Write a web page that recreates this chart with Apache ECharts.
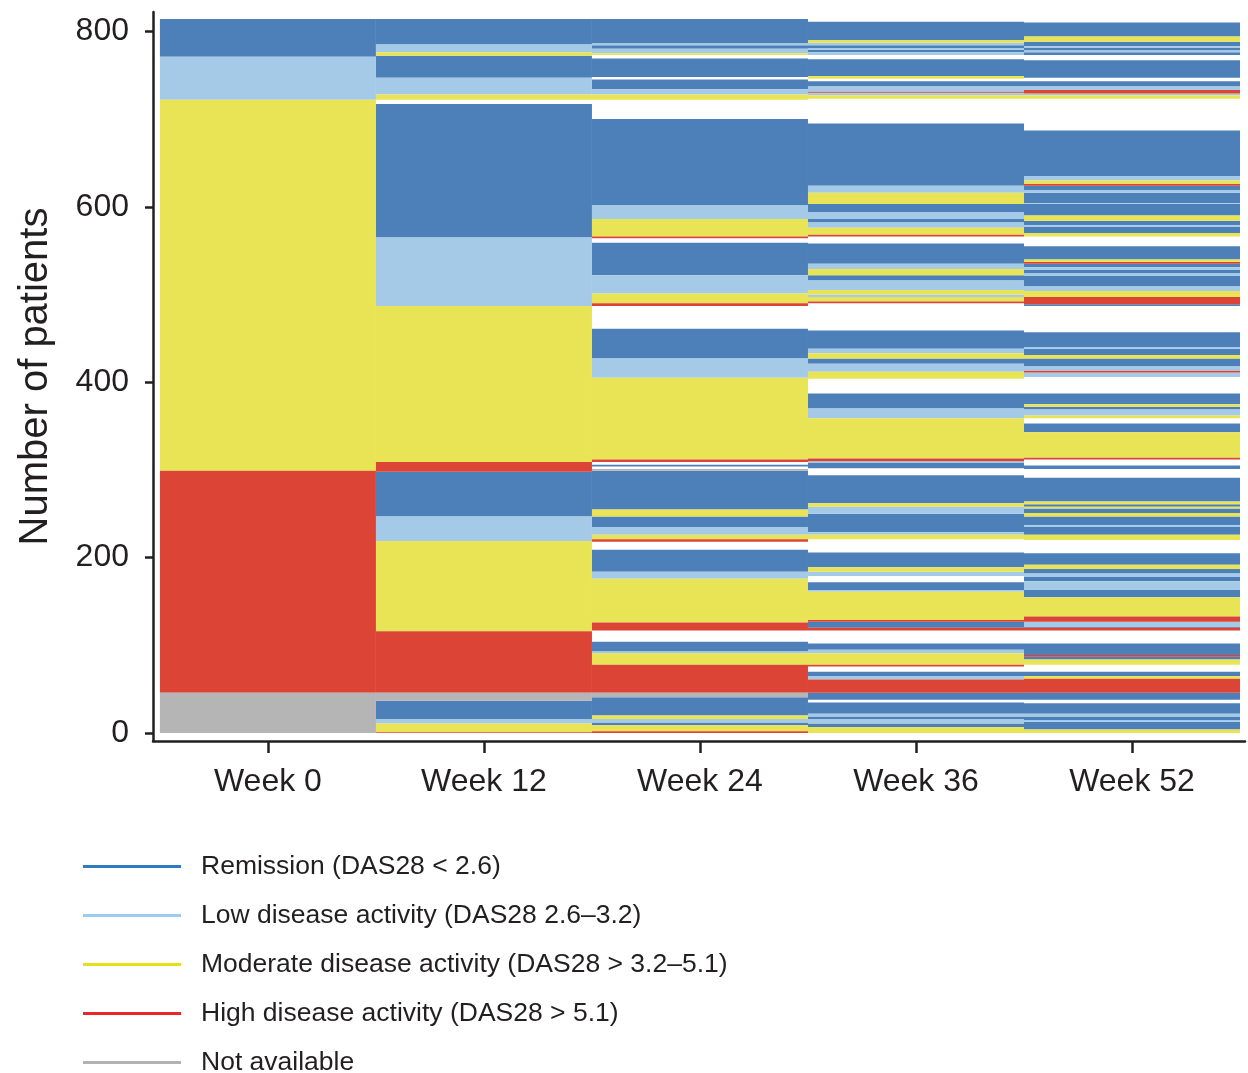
<!DOCTYPE html>
<html>
<head>
<meta charset="utf-8">
<title>DAS28 disease activity by visit</title>
<script src="https://cdn.jsdelivr.net/npm/echarts@6/dist/echarts.min.js"></script>
<style>
  html, body { margin: 0; padding: 0; background: #fff; }
  #chart { width: 1248px; height: 1073px; }
</style>
</head>
<body>
<div id="chart"></div>
<script>
const categories = ["Week 0", "Week 12", "Week 24", "Week 36", "Week 52"];
const yTicks = [0, 200, 400, 600, 800];

// R remission, L low, M moderate, H high, N not available, W no record (left blank)
const stateOrder = ["R", "L", "M", "H", "N"];
const stateNames = {
  R: "Remission (DAS28 < 2.6)",
  L: "Low disease activity (DAS28 2.6–3.2)",
  M: "Moderate disease activity (DAS28 > 3.2–5.1)",
  H: "High disease activity (DAS28 > 5.1)",
  N: "Not available",
};

// patients per stripe, listed bottom -> top
const week0 = [["N", 46], ["H", 253], ["M", 423], ["L", 49], ["R", 43]];
const week12 = [
  ["H", 1], ["M", 10], ["L", 5], ["R", 21], ["N", 9],
  ["H", 70], ["M", 103], ["L", 28], ["R", 51],
  ["H", 11], ["M", 178], ["L", 78], ["R", 152], ["W", 5],
  ["M", 6], ["L", 19], ["R", 25],
  ["M", 4], ["L", 9], ["R", 29],
];
const week24 = [
  ["H", 2], ["M", 7], ["R", 3], ["L", 4], ["M", 4], ["R", 21], ["N", 5],
  ["H", 32], ["M", 13], ["L", 2], ["R", 11], ["W", 13], ["H", 9], ["M", 50], ["L", 8], ["R", 25],
  ["W", 9], ["H", 3], ["M", 5], ["L", 9], ["R", 12], ["M", 8], ["R", 44],
  ["N", 2], ["W", 3], ["R", 2], ["W", 3], ["H", 3], ["M", 93], ["L", 22], ["R", 34],
  ["W", 26], ["H", 3], ["M", 11], ["L", 21], ["R", 37], ["W", 5], ["H", 2], ["M", 20], ["L", 16], ["R", 98],
  ["W", 22], ["M", 6], ["L", 6], ["R", 11], ["W", 3], ["R", 21], ["W", 4],
  ["M", 2], ["L", 5], ["R", 4], ["L", 2], ["R", 28],
];
const week36 = [
  ["M", 7], ["R", 4], ["L", 5], ["R", 3], ["L", 3], ["R", 13], ["W", 3], ["R", 8],
  ["H", 15], ["L", 4], ["R", 5], ["W", 6], ["H", 2], ["M", 13], ["L", 4], ["R", 7], ["W", 15],
  ["H", 3], ["R", 7], ["H", 2], ["M", 32], ["L", 2], ["R", 9], ["W", 7], ["L", 5], ["M", 5], ["R", 17],
  ["W", 15], ["M", 5], ["L", 3], ["R", 21], ["L", 8], ["M", 4], ["R", 32], ["W", 8], ["R", 6], ["L", 2],
  ["H", 3], ["M", 46], ["L", 11], ["R", 17], ["W", 17], ["M", 8], ["L", 9], ["R", 6], ["M", 6], ["L", 5], ["R", 21],
  ["W", 31], ["H", 2], ["M", 5], ["L", 3], ["M", 5], ["L", 11], ["R", 6], ["M", 7], ["L", 6], ["R", 23],
  ["W", 8], ["H", 2], ["M", 8], ["L", 6], ["R", 4], ["L", 8], ["R", 9], ["M", 13], ["L", 8], ["R", 71],
  ["W", 28], ["M", 4], ["L", 3], ["H", 1], ["L", 6], ["R", 6], ["W", 3], ["M", 3], ["R", 19],
  ["W", 5], ["L", 3], ["R", 3], ["L", 2], ["R", 3], ["L", 3], ["M", 3], ["R", 21],
];
const week52 = [
  ["M", 4], ["R", 9], ["L", 2], ["R", 4], ["L", 3], ["R", 12], ["W", 4], ["R", 8],
  ["H", 16], ["M", 3], ["R", 5], ["W", 8], ["M", 6], ["R", 3], ["H", 2], ["R", 13], ["W", 15],
  ["H", 3], ["R", 1], ["L", 6], ["H", 6], ["M", 22], ["R", 8], ["L", 10], ["R", 5], ["L", 4], ["R", 5], ["M", 5], ["R", 13],
  ["W", 15], ["M", 6], ["R", 9], ["L", 2], ["R", 10], ["M", 4], ["R", 5], ["M", 2], ["R", 3], ["M", 3], ["R", 27],
  ["W", 10], ["R", 4], ["W", 7], ["H", 2], ["M", 29], ["R", 10], ["W", 6], ["M", 3], ["L", 7], ["R", 3], ["M", 3], ["R", 12],
  ["W", 19], ["L", 5], ["H", 2], ["L", 5], ["R", 9], ["M", 4], ["R", 7], ["L", 2], ["R", 17],
  ["W", 30], ["R", 2], ["H", 8], ["M", 7], ["L", 5], ["R", 12], ["L", 3], ["R", 4], ["L", 3], ["R", 4],
  ["H", 2], ["M", 3], ["R", 15], ["W", 11], ["M", 4], ["R", 7], ["L", 2], ["R", 5], ["M", 6], ["R", 13],
  ["L", 1], ["R", 12], ["L", 3], ["R", 5], ["H", 2], ["M", 4], ["L", 5], ["R", 52],
  ["W", 36], ["M", 4], ["L", 2], ["H", 4], ["L", 4], ["R", 6], ["W", 4], ["R", 20],
  ["W", 6], ["R", 3], ["L", 2], ["R", 3], ["L", 2], ["R", 5], ["M", 6], ["R", 16],
];
const weeks = [week0, week12, week24, week36, week52];

const fillColors = { R: "#4d80b9", L: "#a5cae8", M: "#e9e455", H: "#dc4535", N: "#b5b5b6" };
const legendColors = { R: "#2c7bc3", L: "#9bcbee", M: "#e4e01c", H: "#e9262a", N: "#b3b3b3" };
const textColor = "#231f20";
const fontFamily = "'Liberation Sans', Arial, sans-serif";

// [weekIndex, start, end] for every stripe of one state
function stripesFor(state) {
  const out = [];
  weeks.forEach((stripes, i) => {
    let base = 0;
    stripes.forEach(([s, n]) => {
      if (s === state) out.push([i, base, base + n]);
      base += n;
    });
  });
  return out;
}

const chart = echarts.init(document.getElementById("chart"));

chart.setOption({
  animation: false,
  textStyle: { fontFamily: fontFamily },
  grid: { left: 153, right: 3, top: 12, bottom: 332 },
  legend: {
    orient: "vertical",
    left: 83,
    top: 853,
    height: 260,
    padding: 0,
    icon: "rect",
    itemWidth: 98,
    itemHeight: 3,
    itemGap: 22,
    selectedMode: false,
    textStyle: {
      fontSize: 26.5,
      lineHeight: 26,
      color: textColor,
      fontFamily: fontFamily,
      padding: [0, 0, 0, 15],
    },
    data: stateOrder.map((s) => ({ name: stateNames[s], itemStyle: { color: legendColors[s] } })),
  },
  xAxis: {
    type: "value",
    min: -0.532,
    max: 4.523,
    splitLine: { show: false },
    axisLine: { show: true, onZero: false, lineStyle: { color: textColor, width: 2.5 } },
    axisTick: {
      show: true,
      customValues: categories.map((c, i) => i),
      length: 12,
      lineStyle: { color: textColor, width: 2.5 },
    },
    axisLabel: {
      customValues: categories.map((c, i) => i),
      formatter: (v) => categories[Math.round(v)],
      fontSize: 32,
      color: textColor,
      margin: 25,
      fontFamily: fontFamily,
    },
  },
  yAxis: {
    type: "value",
    min: -9,
    max: 822,
    name: "Number of patients",
    nameLocation: "middle",
    nameRotate: 90,
    nameGap: 97,
    nameTextStyle: { fontSize: 40, color: textColor, fontFamily: fontFamily },
    splitLine: { show: false },
    axisLine: { show: true, onZero: false, lineStyle: { color: textColor, width: 2.5 } },
    axisTick: {
      show: true,
      customValues: yTicks,
      length: 8,
      lineStyle: { color: textColor, width: 2.5 },
    },
    axisLabel: {
      customValues: yTicks,
      fontSize: 32,
      color: textColor,
      margin: 24,
      fontFamily: fontFamily,
    },
  },
  series: stateOrder.map((s) => ({
    name: stateNames[s],
    type: "custom",
    data: stripesFor(s),
    encode: { x: 0, y: [1, 2] },
    itemStyle: { color: fillColors[s] },
    renderItem: (params, api) => {
      const x = api.value(0);
      const topLeft = api.coord([x - 0.5, api.value(2)]);
      const bottomRight = api.coord([x + 0.5, api.value(1)]);
      return {
        type: "rect",
        shape: {
          x: topLeft[0],
          y: topLeft[1],
          width: bottomRight[0] - topLeft[0],
          height: bottomRight[1] - topLeft[1],
        },
        style: { fill: fillColors[s] },
      };
    },
  })),
});
</script>
</body>
</html>
